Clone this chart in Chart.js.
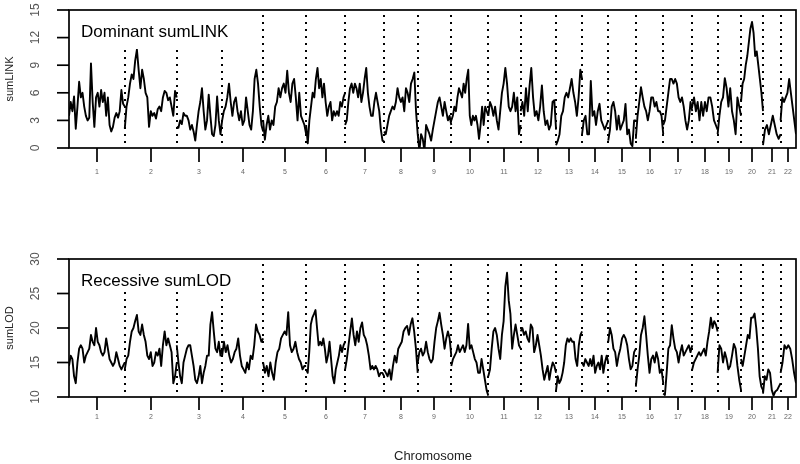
<!DOCTYPE html>
<html><head><meta charset="utf-8">
<script src="https://cdn.jsdelivr.net/npm/chart.js@4.4.1/dist/chart.umd.min.js"></script>
<style>
html,body{margin:0;padding:0;background:#fff;}
#wrap{position:relative;width:800px;height:464px;overflow:hidden;}
canvas{position:absolute;left:0;}
</style></head><body>
<div id="wrap">
<canvas id="c1" width="800" height="232" style="top:0"></canvas>
<canvas id="c2" width="800" height="232" style="top:232px"></canvas>
</div>
<script>
const chromosomes = ['1','2','3','4','5','6','7','8','9','10','11','12','13','14','15','16','17','18','19','20','21','22'];
const chromLengthsCM = [279,260,227,205,215,195,195,168,168,185,162,177,130,131,138,137,145,127,117,110,88,77];

const linkTicks = [0,3,6,9,12,15];
const lodTicks = [10,15,20,25,30];

const dominantSumLINK = [
 [3.5,5.0,4.0,5.6,2.1,4.5,7.2,5.5,6.0,4.5,3.5,3.0,3.3,9.2,5.0,2.3,5.5,6.0,4.5,6.3,5.0,6.0,3.5,5.5,2.5,1.8,2.3,3.3,3.8,3.3,4.0,6.3,4.8,4.5],
 [2.1,4.5,5.5,7.0,8.0,7.5,9.5,10.7,8.5,6.5,8.5,7.5,6.0,5.5,2.3,4.0,3.5,3.8,3.2,4.2,4.5,4.0,5.5,6.2,6.0,5.2,5.5,4.5,3.5,6.2,5.5],
 [2.3,2.2,3.0,2.6,3.8,3.5,3.5,3.0,2.0,2.5,1.8,0.8,2.5,4.0,5.0,6.5,4.0,2.0,3.0,5.8,3.5,1.5,1.3,2.5,5.6,3.0,1.5,3.0],
 [3.0,4.0,4.5,5.5,7.0,5.0,3.5,5.0,5.5,4.0,3.0,4.0,2.5,3.0,5.5,4.0,2.5,2.0,4.0,7.5,8.5,7.0,4.5,2.5,1.8],
 [3.0,0.9,2.5,3.5,2.0,3.0,2.5,4.5,5.0,6.5,5.5,6.5,7.0,6.0,8.4,6.0,5.0,7.0,7.5,5.5,3.0,6.0,3.5,3.0,2.5,1.5],
 [2.5,0.5,3.0,4.5,6.0,5.5,7.5,8.7,6.5,7.5,5.5,7.0,5.0,3.5,4.5,5.0,3.0,4.0,3.5,4.0,3.5,5.0,4.5,5.5,6.0],
 [2.5,3.0,5.0,6.5,7.0,6.0,7.0,6.5,5.5,7.0,5.0,6.0,7.5,8.7,6.0,4.5,3.5,3.5,5.0,6.0,5.0,4.0,2.0,0.8,0.7],
 [1.8,1.5,2.5,3.5,4.0,4.5,4.2,5.0,6.5,5.5,5.0,5.5,4.0,6.5,6.0,5.0,7.0,7.5,8.2,4.0,1.5],
 [1.5,-0.3,1.5,1.0,-0.3,2.5,2.0,1.5,0.8,2.0,3.0,4.0,5.0,5.5,4.5,3.5,5.0,4.0,3.0,3.5,2.5],
 [3.0,3.5,4.5,4.0,5.5,6.5,6.0,5.5,7.0,6.0,7.5,8.5,3.5,2.5,3.5,3.0,3.5,2.5,1.0,2.5,4.5,2.5,4.5,4.0,3.5],
 [3.5,5.0,4.5,3.5,4.5,3.0,2.0,4.0,6.0,7.0,8.7,7.0,4.5,4.0,4.5,6.0,4.0,5.5,1.5,2.5],
 [4.0,5.0,3.5,6.5,4.0,6.7,8.7,5.5,3.5,4.0,3.0,4.5,6.8,4.0,2.5,3.0,2.0,2.5,5.0,5.2,2.0],
 [0.3,0.8,1.5,3.5,4.0,5.5,6.0,5.5,6.5,7.5,6.0,5.0,3.5,5.5,8.5,7.5],
 [1.5,3.0,3.5,1.5,1.5,7.3,3.5,4.0,2.5,4.0,4.8,3.0,2.5,2.0,2.5,3.0],
 [0.8,2.0,4.5,5.0,4.0,2.0,3.5,2.0,2.5,3.0,4.8,1.5,2.0,0.5,0.2,3.0,3.0],
 [1.0,3.5,5.0,6.6,5.5,4.5,4.0,3.0,4.0,5.5,5.5,4.5,5.0,4.0,4.0,3.5,1.5],
 [2.5,3.0,4.5,6.0,7.5,7.5,7.0,7.5,7.0,5.5,5.0,5.5,4.5,3.0,2.0,3.0,5.0,4.0],
 [4.5,5.5,4.0,5.0,3.0,5.0,3.5,5.0,4.0,5.5,5.5,4.5,3.0,2.5,2.0],
 [1.5,3.5,5.0,5.5,7.6,6.5,4.5,6.5,4.0,3.0,1.5,5.5,4.5,3.5],
 [5.0,7.0,7.5,9.0,10.0,11.5,13.0,13.7,12.5,10.0,10.5,9.0,7.5,6.0,4.0],
 [0.3,2.0,2.5,1.5,2.5,3.5,2.5,1.5,1.0,1.5],
 [3.0,5.5,5.0,5.5,6.0,7.5,6.0,4.5,3.0,1.5]
];

const recessiveSumLOD = [
 [14.5,16.0,15.5,13.0,12.0,15.0,17.0,17.5,17.0,15.0,16.0,16.5,17.0,19.0,18.0,17.5,20.0,18.0,17.5,16.5,16.0,16.5,18.5,17.0,15.5,15.0,14.5,15.0,16.5,15.5,14.5,14.0,14.5,15.0],
 [14.0,15.5,16.0,18.0,19.5,20.0,21.0,21.9,19.5,19.0,20.5,19.0,18.0,16.0,15.5,16.5,14.5,15.0,16.5,16.0,17.0,14.5,17.5,19.5,17.5,18.5,17.5,16.5,12.0,13.0,15.0],
 [17.5,15.0,13.0,12.0,15.0,16.0,17.0,17.5,17.5,16.0,14.5,12.5,12.0,13.0,14.5,12.0,13.5,14.5,16.0,16.0,20.5,22.3,19.5,17.0,16.5,18.0,16.0,17.0],
 [16.0,18.0,16.5,17.5,16.0,15.0,15.5,16.5,17.0,18.5,16.0,14.5,14.0,13.5,15.0,14.0,16.0,15.5,17.5,20.5,19.5,19.0,18.0,18.5],
 [15.0,13.5,14.5,13.0,15.0,13.5,12.5,15.0,16.5,17.0,18.5,19.0,19.5,19.0,22.3,17.5,16.5,17.0,18.0,16.5,15.5,15.0,14.0,14.5,14.5],
 [14.0,13.5,16.5,20.5,21.5,22.0,22.6,20.0,17.5,18.0,17.5,18.5,17.0,15.0,16.0,18.0,15.5,13.0,12.0,14.0,15.0,16.0,17.5,16.5,17.5,18.0],
 [14.0,15.5,17.5,19.5,21.4,19.0,17.5,19.5,18.0,20.0,20.8,19.0,18.5,17.5,16.0,14.0,14.5,14.0,14.5,14.0,13.0,13.5,13.5,13.0],
 [14.0,13.5,13.0,14.0,12.5,14.5,16.0,15.0,17.0,17.5,18.0,19.5,20.0,20.3,19.0,20.5,21.4,19.5,17.0,13.5],
 [15.0,16.5,17.0,16.0,16.5,18.0,16.5,15.5,15.0,15.5,18.0,20.0,21.0,22.2,20.5,19.0,17.0,18.5,19.5,18.5,16.0],
 [14.5,15.5,16.0,16.5,17.5,16.5,17.0,17.5,16.5,17.5,20.6,17.0,17.5,16.5,15.5,15.0,13.5,13.5,15.5,14.0,12.5,11.0,10.2],
 [13.0,14.0,17.0,19.5,20.0,19.0,17.0,15.5,19.0,21.0,26.0,28.0,24.0,22.0,17.0,19.0,20.5,19.0,17.5,17.0],
 [19.5,20.0,19.0,19.5,18.5,18.0,20.5,20.0,16.5,17.5,19.0,17.5,16.0,14.0,12.5,13.5,14.5,12.5,14.0,15.0,14.5,13.5],
 [11.0,13.0,12.0,12.5,13.5,15.0,17.5,18.5,18.0,18.5,18.0,18.0,15.5,14.5,17.5,19.0,19.5],
 [15.0,14.5,15.5,15.0,14.5,15.5,14.5,16.0,13.5,14.5,15.0,14.0,16.0,13.5,15.0,16.0,15.0],
 [18.0,20.0,19.0,17.0,16.5,14.5,16.0,17.0,18.5,19.0,18.5,17.5,15.5,14.0,14.5,16.5,17.0],
 [11.5,14.0,16.0,19.0,20.0,21.7,19.0,16.0,13.5,15.5,16.0,15.0,16.5,15.5,13.5,14.0,12.0],
 [10.5,10.3,13.5,17.0,17.5,20.4,18.5,17.0,16.5,15.0,16.5,17.5,16.0,16.5,17.0,17.5,16.5,17.5],
 [14.0,15.0,15.5,16.0,16.5,16.0,16.5,17.0,16.0,18.0,19.5,21.5,20.0,21.0,20.5,19.5],
 [13.5,17.5,17.0,15.0,16.5,15.5,14.0,14.5,16.0,17.7,17.0,14.5,12.5,11.0],
 [15.5,14.5,16.0,17.5,19.0,18.5,21.5,21.5,22.1,20.0,17.0,13.0,11.5,11.0],
 [10.5,13.0,12.5,14.0,13.5,11.0,10.2,10.8,11.0,11.5,12.0],
 [13.5,15.0,17.5,17.0,17.5,17.0,15.5,13.5,12.0]
];

const chromStarts = [];
(function(){ let s = 0; chromLengthsCM.forEach(L => { chromStarts.push(s); s += L; }); })();
const genomeLength = chromLengthsCM.reduce((a,b)=>a+b,0);
const boundaries = chromStarts.slice(1);
const midpoints = chromStarts.map((s,i)=>s+chromLengthsCM[i]/2);

function makeDatasets(series){
  return series.map((vals,i)=>({
    data: vals.map((v,j)=>({x: chromStarts[i] + chromLengthsCM[i]*j/(vals.length-1), y: v})),
    borderColor:'#000', borderWidth:1.9, pointRadius:0, tension:0, fill:false,
    borderJoinStyle:'round'
  }));
}

const FONT = '"Liberation Sans", Arial, Helvetica, sans-serif';

function panelPlugin(cfg){
  return {
    id:'panel_'+cfg.key,
    beforeDatasetsDraw(chart){
      const {ctx, chartArea:a, scales:{x}} = chart;
      ctx.save();
      ctx.strokeStyle='#000'; ctx.lineWidth=2; ctx.setLineDash([2,5]);
      boundaries.forEach(b=>{
        const px = Math.round(x.getPixelForValue(b));
        ctx.beginPath(); ctx.moveTo(px, a.top+5); ctx.lineTo(px, a.bottom-5); ctx.stroke();
      });
      ctx.restore();
    },
    afterDatasetsDraw(chart){
      const {ctx, chartArea:a} = chart;
      ctx.save();
      ctx.fillStyle='#fff';
      ctx.fillRect(a.left+1, a.top+1, 175, cfg.boxH);
      ctx.fillStyle='#000';
      ctx.font = '17px '+FONT;
      ctx.textBaseline='alphabetic'; ctx.textAlign='left';
      ctx.fillText(cfg.title, a.left+12, a.top+cfg.titleBase);
      ctx.restore();
    },
    afterDraw(chart){
      const {ctx, chartArea:a, scales:{x,y}} = chart;
      ctx.save();
      ctx.strokeStyle='#000'; ctx.lineWidth=1.7; ctx.setLineDash([]);
      ctx.strokeRect(a.left, a.top, a.right-a.left, a.bottom-a.top);
      // y ticks
      ctx.fillStyle='#555'; ctx.font='12px '+FONT;
      ctx.textAlign='center'; ctx.textBaseline='middle';
      cfg.yTicks.forEach(t=>{
        const py = y.getPixelForValue(t);
        ctx.beginPath(); ctx.moveTo(a.left-12, py); ctx.lineTo(a.left, py); ctx.stroke();
        ctx.save(); ctx.translate(36, py); ctx.rotate(-Math.PI/2); ctx.fillText(String(t), 0, 0); ctx.restore();
      });
      // y title
      ctx.fillStyle='#222'; ctx.font='11px '+FONT;
      ctx.save(); ctx.translate(10, (a.top+a.bottom)/2); ctx.rotate(-Math.PI/2); ctx.fillText(cfg.yTitle,0,0); ctx.restore();
      // x ticks
      ctx.fillStyle='#666'; ctx.font='7px '+FONT;
      midpoints.forEach((m,i)=>{
        const px = Math.round(x.getPixelForValue(m));
        ctx.beginPath(); ctx.moveTo(px, a.bottom); ctx.lineTo(px, a.bottom+cfg.tickLen); ctx.stroke();
        ctx.fillText(chromosomes[i], px, a.bottom+cfg.labelOff);
      });
      if (cfg.xTitle){
        ctx.fillStyle='#222'; ctx.font='13px '+FONT;
        ctx.textBaseline='alphabetic';
        ctx.fillText(cfg.xTitle, 433, cfg.xTitleBase);
      }
      ctx.restore();
    }
  };
}

function makeChart(id, series, yMin, yMax, padding, cfg){
  return new Chart(document.getElementById(id), {
    type:'line',
    data:{ datasets: makeDatasets(series) },
    options:{
      responsive:false, animation:false, devicePixelRatio:1,
      layout:{ padding },
      plugins:{ legend:{display:false}, tooltip:{enabled:false} },
      scales:{
        x:{ type:'linear', min:0, max:genomeLength, display:false },
        y:{ type:'linear', min:yMin, max:yMax, display:false }
      }
    },
    plugins:[panelPlugin(cfg)]
  });
}

makeChart('c1', dominantSumLINK, 0, 15, {left:69, right:4, top:10, bottom:84},
  {key:'dom', title:'Dominant sumLINK', yTitle:'sumLINK', yTicks:linkTicks, boxH:38, titleBase:27, tickLen:14, labelOff:24});
makeChart('c2', recessiveSumLOD, 10, 30, {left:69, right:4, top:27, bottom:67},
  {key:'rec', title:'Recessive sumLOD', yTitle:'sumLOD', yTicks:lodTicks, boxH:32, titleBase:27, tickLen:13, labelOff:20, xTitle:'Chromosome', xTitleBase:228});
</script>
</body></html>
